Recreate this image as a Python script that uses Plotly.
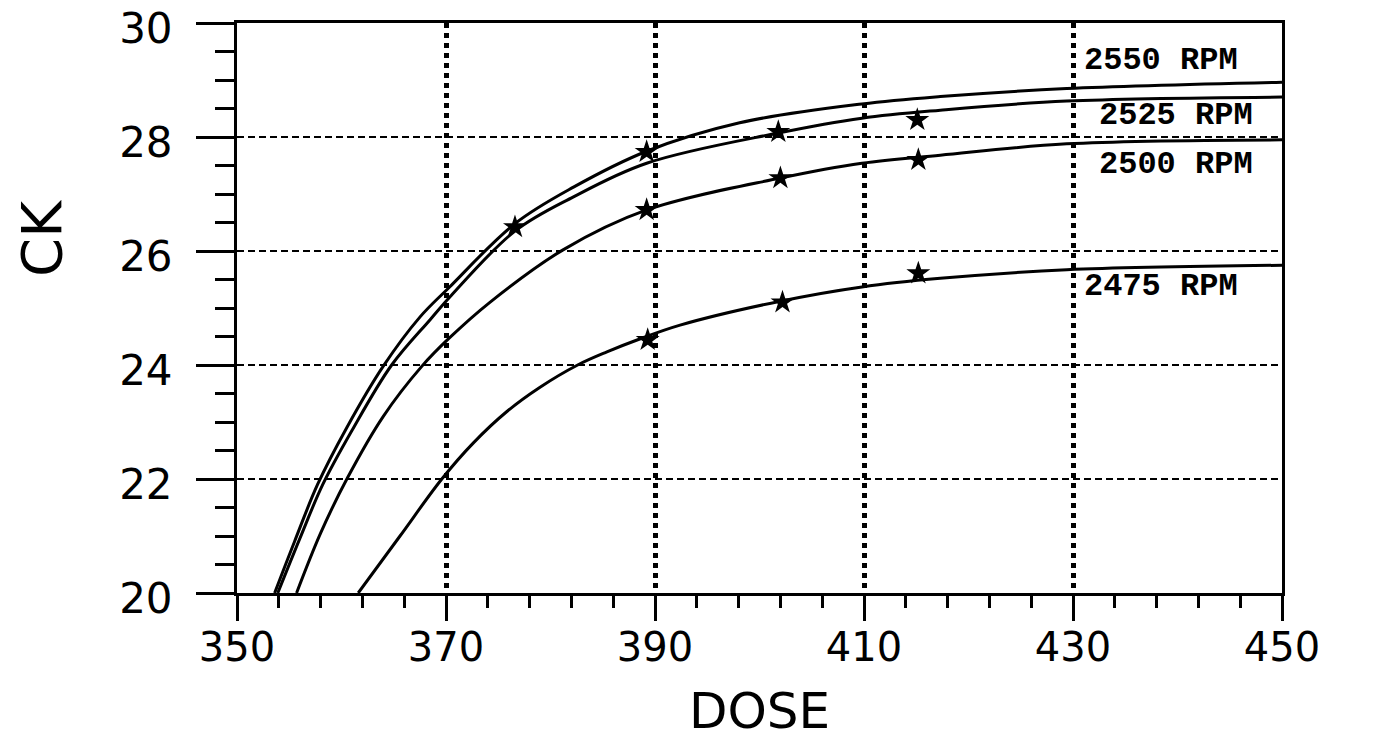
import plotly.graph_objects as go

# ---- data ----
dose_2550 = [353.6, 355.5, 357.7, 360.5, 364.0, 367.5, 370.3, 376.6, 382.2, 389.2, 398.1, 409.8, 417.3, 429.4, 450.0]
ck_2550 = [20.0, 20.9, 21.9, 22.9, 23.98, 24.84, 25.36, 26.48, 27.12, 27.75, 28.25, 28.58, 28.71, 28.85, 28.96]

dose_2525 = [353.9, 356.0, 358.2, 361.0, 364.8, 368.5, 370.5, 376.6, 382.2, 389.2, 401.8, 409.8, 417.3, 429.4, 450.0]
ck_2525 = [20.0, 20.95, 21.9, 22.85, 24.0, 24.80, 25.22, 26.35, 26.95, 27.54, 28.07, 28.33, 28.47, 28.63, 28.70]

dose_2500 = [355.7, 358.0, 360.6, 364.0, 367.7, 370.3, 374.2, 381.2, 389.2, 402.0, 409.8, 417.3, 429.4, 450.0]
ck_2500 = [20.0, 21.05, 22.03, 23.1, 23.98, 24.47, 25.1, 26.02, 26.72, 27.28, 27.54, 27.68, 27.88, 27.95]

dose_2475 = [361.6, 365.6, 369.6, 372.6, 375.8, 379.0, 382.6, 385.4, 388.6, 392.4, 402.0, 409.8, 417.3, 429.4, 450.0]
ck_2475 = [20.0, 21.0, 22.0, 22.63, 23.18, 23.61, 24.0, 24.23, 24.46, 24.70, 25.12, 25.37, 25.52, 25.67, 25.75]

star_dose_2550 = [376.6, 389.2]
star_ck_2550 = [26.42, 27.74]
star_dose_2525 = [401.8, 415.1]
star_ck_2525 = [28.09, 28.30]
star_dose_2500 = [389.2, 402.0, 415.2]
star_ck_2500 = [26.72, 27.28, 27.60]
star_dose_2475 = [389.3, 402.2, 415.2]
star_ck_2475 = [24.44, 25.10, 25.61]

rpm_labels = ["2550 RPM", "2525 RPM", "2500 RPM", "2475 RPM"]
rpm_label_dose = [430.9, 432.3, 432.3, 430.9]
rpm_label_ck = [29.35, 28.37, 27.51, 25.37]

x_ticks = [350, 370, 390, 410, 430, 450]
y_ticks = [20, 22, 24, 26, 28, 30]

curves = [(dose_2550, ck_2550), (dose_2525, ck_2525), (dose_2500, ck_2500), (dose_2475, ck_2475)]
stars = [(star_dose_2550, star_ck_2550), (star_dose_2525, star_ck_2525),
         (star_dose_2500, star_ck_2500), (star_dose_2475, star_ck_2475)]

fig = go.Figure()
for xs, ys in curves:
    fig.add_trace(go.Scatter(x=xs, y=ys, mode="lines",
                             line=dict(color="black", width=3, shape="spline", smoothing=1.0),
                             showlegend=False, hoverinfo="skip"))
for xs, ys in stars:
    fig.add_trace(go.Scatter(x=xs, y=ys, mode="markers",
                             marker=dict(symbol="star", size=18, color="black"),
                             showlegend=False, hoverinfo="skip"))

tick_font = "DejaVu Sans"

fig.update_layout(
    width=1381, height=742, autosize=False,
    margin=dict(l=237, r=99, t=23, b=149, autoexpand=False),
    paper_bgcolor="white", plot_bgcolor="white",
    xaxis=dict(
        range=[350, 450], tickvals=x_ticks, ticktext=[str(v) for v in x_ticks],
        ticks="outside", ticklen=25, tickwidth=3, tickcolor="black",
        showline=True, linewidth=3, linecolor="black", mirror=True,
        showgrid=True, gridcolor="black", gridwidth=4.5, griddash="5px,5px",
        zeroline=False, fixedrange=True, automargin=False,
        tickfont=dict(family=tick_font, size=40, color="black"),
        ticklabelstandoff=-8, ticklabeloverflow="allow",
        minor=dict(ticks="outside", ticklen=12, tickwidth=3, tickcolor="black",
                   dtick=4, tick0=350, showgrid=False),
    ),
    yaxis=dict(
        range=[20, 30], tickvals=y_ticks, ticktext=[str(v) for v in y_ticks],
        ticks="outside", ticklen=38, tickwidth=3, tickcolor="black",
        showline=True, linewidth=3, linecolor="black", mirror=True,
        showgrid=True, gridcolor="black", gridwidth=2, griddash="7px,4px",
        zeroline=False, fixedrange=True, automargin=False,
        tickfont=dict(family=tick_font, size=42, color="black"),
        ticklabelstandoff=15, ticklabelshift=5, ticklabeloverflow="allow",
        minor=dict(ticks="outside", ticklen=19, tickwidth=3, tickcolor="black",
                   dtick=0.5, tick0=20, showgrid=False),
    ),
)

annotations = []
for text, xv, yv in zip(rpm_labels, rpm_label_dose, rpm_label_ck):
    annotations.append(dict(x=xv, y=yv, xref="x", yref="y", text=text, showarrow=False,
                            xanchor="left", yanchor="middle",
                            font=dict(family="Liberation Mono", size=32, color="black", weight="bold")))
annotations.append(dict(x=0.5, y=-(711 - 593) / 570, xref="paper", yref="paper", text="DOSE", showarrow=False,
                        xanchor="center", yanchor="middle",
                        font=dict(family=tick_font, size=50, color="black")))
annotations.append(dict(x=-0.1876, y=0.6228, xref="paper", yref="paper", text="CK", showarrow=False,
                        xanchor="center", yanchor="middle", textangle=-90,
                        font=dict(family=tick_font, size=56, color="black")))
fig.update_layout(annotations=annotations)

fig.write_html("out.html")
